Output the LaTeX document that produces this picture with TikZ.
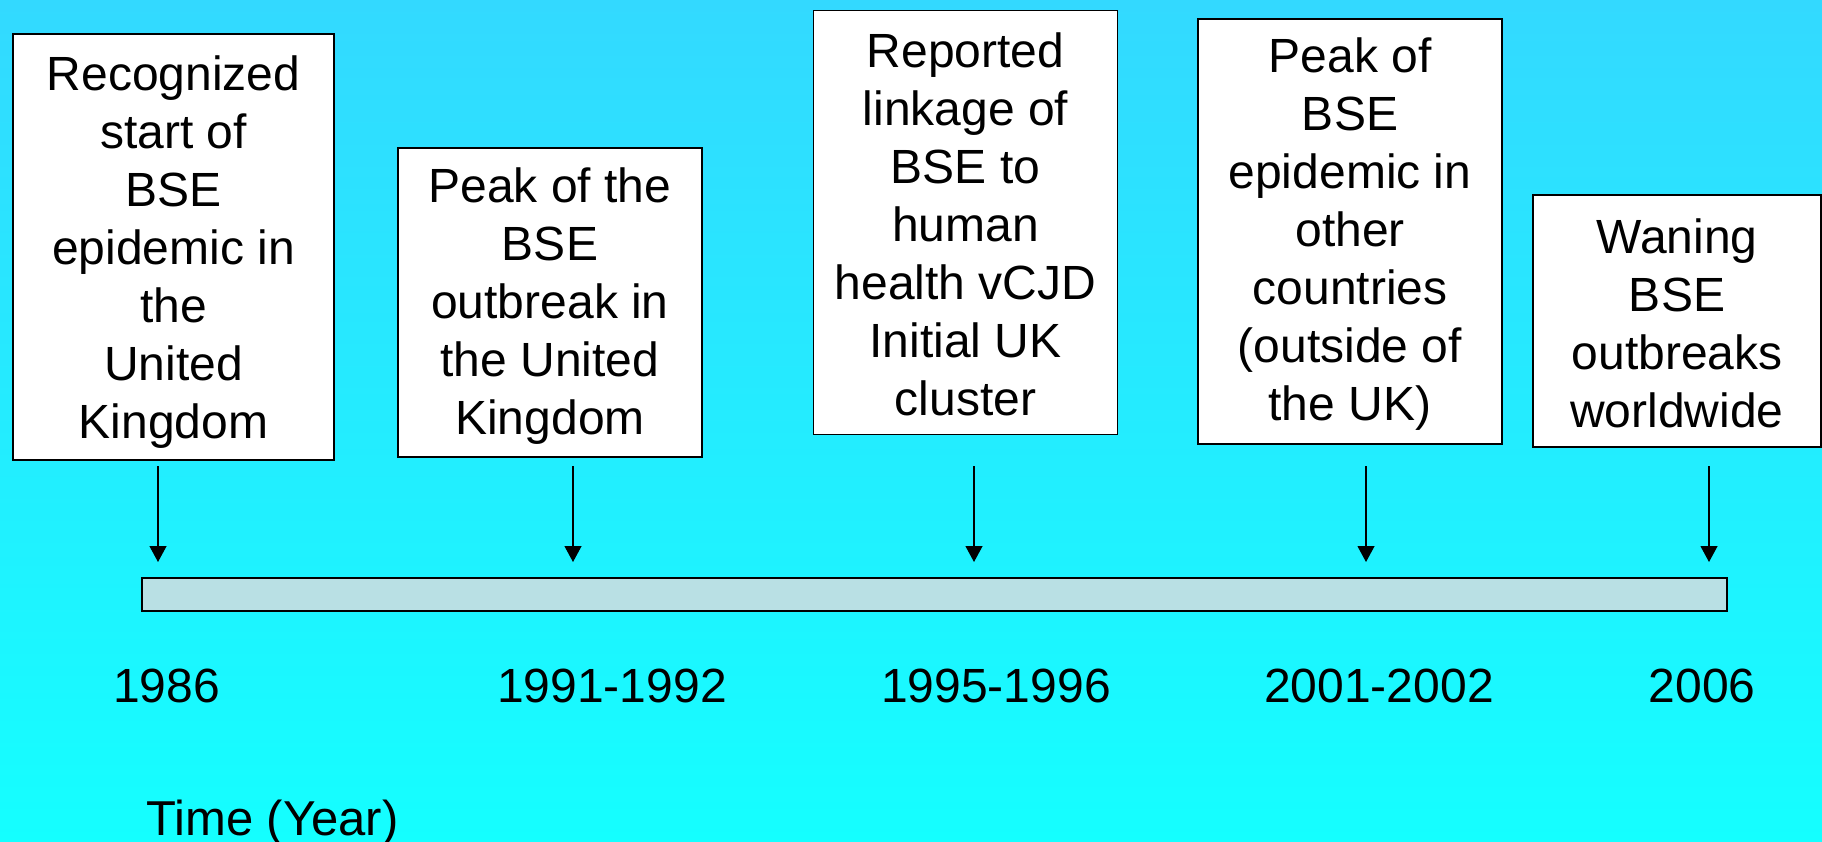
\documentclass[tikz,border=0pt]{standalone}
\usepackage{fontspec}
\setmainfont{Liberation Sans}
\usetikzlibrary{arrows.meta}
\definecolor{bgtop}{RGB}{51,217,255}
\definecolor{bgbot}{RGB}{20,255,255}
\definecolor{barfill}{RGB}{185,224,228}
\tikzset{
  evbox/.style={draw=black, line width=1.3pt, fill=white, inner sep=0pt},
  evtext/.style={align=center, inner sep=0pt, font=\fontsize{48}{58}\selectfont},
  yearlbl/.style={font=\fontsize{48}{58}\selectfont, inner sep=0pt, anchor=base},
  pointer/.style={line width=1.2pt, -{Triangle[width=17pt,length=16pt]}},
}
\begin{document}
\begin{tikzpicture}[x=1pt,y=-1pt]
\shade[top color=bgtop, bottom color=bgbot] (0,0) rectangle (1822,842);
\useasboundingbox (0,0) rectangle (1822,842);

\node[evbox, minimum width=321pt, minimum height=426pt] (b1) at (173.5,247) {};
\node[evtext] (t1) at ([yshift=-5pt]b1.center)
  {Recognized\\start of\\BSE\\epidemic in\\the\\United\\Kingdom};
\node[evbox, minimum width=304pt, minimum height=309pt] (b2) at (550,302.5) {};
\node[evtext] (t2) at ([yshift=-4pt]b2.center)
  {Peak of the\\BSE\\outbreak in\\the United\\Kingdom};
\node[evbox, minimum width=304pt, minimum height=424pt] (b3) at (965.5,222.5) {};
\node[evtext] (t3) at ([yshift=-2pt]b3.center)
  {Reported\\linkage of\\BSE to\\human\\health vCJD\\Initial UK\\cluster};
\node[evbox, minimum width=304pt, minimum height=425pt] (b4) at (1350,231.5) {};
\node[evtext] (t4) at ([yshift=-3pt]b4.center)
  {Peak of\\BSE\\epidemic in\\other\\countries\\(outside of\\the UK)};
\node[evbox, minimum width=288pt, minimum height=252pt] (b5) at (1677,321) {};
\node[evtext] (t5) at ([yshift=-2pt]b5.center)
  {Waning\\BSE\\outbreaks\\worldwide};

\node[draw=black, line width=1.3pt, fill=barfill, minimum width=1585pt, minimum height=33pt, inner sep=0pt] (bar) at (934.5,594.5) {};

\foreach \i/\x in {1/158,2/573,3/974,4/1366,5/1709}{
  \coordinate (s\i) at (\x,466);
  \coordinate (e\i) at (\x,562);
  \draw[pointer] (s\i) -- (e\i);
}

\node[yearlbl] (y1) at (166.5,702) {1986};
\node[yearlbl] (y2) at (612,702) {1991-1992};
\node[yearlbl] (y3) at (996,702) {1995-1996};
\node[yearlbl] (y4) at (1379,702) {2001-2002};
\node[yearlbl] (y5) at (1702,702) {2006};

\node[yearlbl, anchor=base west, font=\fontsize{49}{58}\selectfont] (time) at (146,835) {Time (Year)};
\end{tikzpicture}
\end{document}
